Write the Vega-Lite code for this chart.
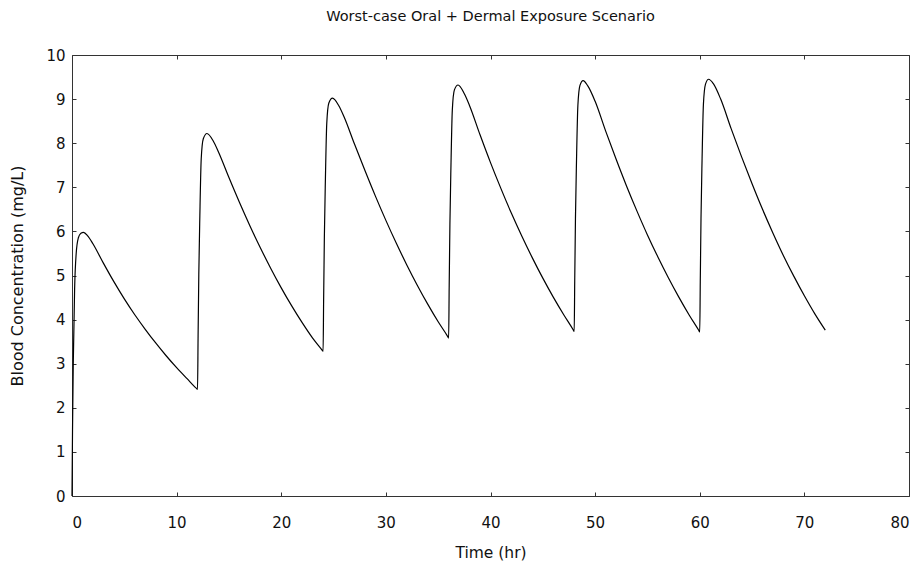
{
  "$schema": "https://vega.github.io/schema/vega-lite/v6.json",
  "width": 837,
  "height": 441,
  "autosize": {"type": "none"},
  "padding": {"left": 72, "top": 55, "right": 12, "bottom": 68},
  "background": "white",
  "title": {"text": "Worst-case Oral + Dermal Exposure Scenario", "font": "DejaVu Sans", "fontSize": 14.5, "fontWeight": "normal", "color": "#111", "offset": 24, "anchor": "middle"},
  "data": {"values": [
    {"t": 0, "conc": 0}, {"t": 0.05, "conc": 1.5}, {"t": 0.12, "conc": 3.0}, {"t": 0.25, "conc": 4.7}, {"t": 0.4, "conc": 5.5}, {"t": 0.6, "conc": 5.85}, {"t": 0.85, "conc": 5.96}, {"t": 1.1, "conc": 5.98}, {"t": 1.5, "conc": 5.9}, {"t": 2, "conc": 5.72}, {"t": 3, "conc": 5.28}, {"t": 4, "conc": 4.86}, {"t": 5, "conc": 4.47}, {"t": 6, "conc": 4.11}, {"t": 7, "conc": 3.78}, {"t": 8, "conc": 3.47}, {"t": 9, "conc": 3.18}, {"t": 10, "conc": 2.91}, {"t": 11, "conc": 2.66}, {"t": 11.9, "conc": 2.44}, {"t": 12, "conc": 2.42},
    {"t": 12.05, "conc": 3.58}, {"t": 12.12, "conc": 5.03}, {"t": 12.22, "conc": 6.36}, {"t": 12.35, "conc": 7.64}, {"t": 12.55, "conc": 8.1}, {"t": 12.9, "conc": 8.22}, {"t": 13.5, "conc": 8.05}, {"t": 14, "conc": 7.8}, {"t": 15, "conc": 7.22}, {"t": 16, "conc": 6.66}, {"t": 17, "conc": 6.13}, {"t": 18, "conc": 5.63}, {"t": 19, "conc": 5.16}, {"t": 20, "conc": 4.72}, {"t": 21, "conc": 4.31}, {"t": 22, "conc": 3.93}, {"t": 23, "conc": 3.58}, {"t": 23.9, "conc": 3.31}, {"t": 24, "conc": 3.28},
    {"t": 24.05, "conc": 4.43}, {"t": 24.12, "conc": 5.86}, {"t": 24.22, "conc": 7.18}, {"t": 24.35, "conc": 8.45}, {"t": 24.55, "conc": 8.91}, {"t": 24.9, "conc": 9.02}, {"t": 25.5, "conc": 8.85}, {"t": 26, "conc": 8.6}, {"t": 27, "conc": 7.98}, {"t": 28, "conc": 7.38}, {"t": 29, "conc": 6.8}, {"t": 30, "conc": 6.25}, {"t": 31, "conc": 5.73}, {"t": 32, "conc": 5.24}, {"t": 33, "conc": 4.78}, {"t": 34, "conc": 4.35}, {"t": 35, "conc": 3.95}, {"t": 35.9, "conc": 3.62}, {"t": 36, "conc": 3.58},
    {"t": 36.05, "conc": 4.73}, {"t": 36.12, "conc": 6.16}, {"t": 36.22, "conc": 7.48}, {"t": 36.35, "conc": 8.75}, {"t": 36.55, "conc": 9.21}, {"t": 36.9, "conc": 9.32}, {"t": 37.5, "conc": 9.12}, {"t": 38, "conc": 8.85}, {"t": 39, "conc": 8.19}, {"t": 40, "conc": 7.56}, {"t": 41, "conc": 6.97}, {"t": 42, "conc": 6.41}, {"t": 43, "conc": 5.89}, {"t": 44, "conc": 5.4}, {"t": 45, "conc": 4.94}, {"t": 46, "conc": 4.51}, {"t": 47, "conc": 4.11}, {"t": 47.9, "conc": 3.77}, {"t": 48, "conc": 3.73},
    {"t": 48.05, "conc": 4.87}, {"t": 48.12, "conc": 6.29}, {"t": 48.22, "conc": 7.6}, {"t": 48.35, "conc": 8.85}, {"t": 48.55, "conc": 9.31}, {"t": 48.85, "conc": 9.42}, {"t": 49.3, "conc": 9.3}, {"t": 50, "conc": 8.95}, {"t": 51, "conc": 8.28}, {"t": 52, "conc": 7.64}, {"t": 53, "conc": 7.03}, {"t": 54, "conc": 6.46}, {"t": 55, "conc": 5.92}, {"t": 56, "conc": 5.42}, {"t": 57, "conc": 4.95}, {"t": 58, "conc": 4.51}, {"t": 59, "conc": 4.1}, {"t": 59.9, "conc": 3.76}, {"t": 60, "conc": 3.72},
    {"t": 60.05, "conc": 4.86}, {"t": 60.12, "conc": 6.3}, {"t": 60.22, "conc": 7.61}, {"t": 60.35, "conc": 8.88}, {"t": 60.55, "conc": 9.34}, {"t": 60.85, "conc": 9.45}, {"t": 61.3, "conc": 9.35}, {"t": 62, "conc": 9.0}, {"t": 63, "conc": 8.33}, {"t": 64, "conc": 7.69}, {"t": 65, "conc": 7.08}, {"t": 66, "conc": 6.5}, {"t": 67, "conc": 5.96}, {"t": 68, "conc": 5.45}, {"t": 69, "conc": 4.98}, {"t": 70, "conc": 4.54}, {"t": 71, "conc": 4.13}, {"t": 72, "conc": 3.76}
  ]},
  "layer": [
    {
      "mark": {"type": "line", "color": "#000", "strokeWidth": 1.2, "interpolate": "monotone"},
      "encoding": {
        "x": {"field": "t", "type": "quantitative", "scale": {"domain": [0, 80], "nice": false, "zero": false},
              "axis": {"orient": "bottom", "title": "Time (hr)", "titleFontSize": 15.5, "values": [0, 10, 20, 30, 40, 50, 60, 70, 80], "labelPadding": 23, "titlePadding": 15}},
        "y": {"field": "conc", "type": "quantitative", "scale": {"domain": [0, 10], "nice": false},
              "axis": {"orient": "left", "title": "Blood Concentration (mg/L)", "titleFontSize": 16, "values": [0, 1, 2, 3, 4, 5, 6, 7, 8, 9, 10], "labelPadding": 11, "titlePadding": 20}}
      }
    },
    {
      "mark": {"type": "line", "opacity": 0},
      "encoding": {
        "x": {"field": "t", "type": "quantitative", "axis": {"orient": "top", "title": null, "labels": false, "values": [0, 10, 20, 30, 40, 50, 60, 70, 80]}},
        "y": {"field": "conc", "type": "quantitative", "axis": {"orient": "right", "title": null, "labels": false, "values": [0, 1, 2, 3, 4, 5, 6, 7, 8, 9, 10]}}
      }
    }
  ],
  "resolve": {"axis": {"x": "independent", "y": "independent"}},
  "config": {
    "view": {"stroke": null},
    "axis": {
      "grid": false,
      "domainColor": "#333",
      "domainWidth": 1,
      "tickColor": "#333",
      "tickSize": -4,
      "tickWidth": 1,
      "labelFont": "DejaVu Sans",
      "labelFontSize": 15,
      "labelColor": "#111",
      "titleFont": "DejaVu Sans",
      "titleFontSize": 15,
      "titleFontWeight": "normal",
      "titleColor": "#111"
    }
  }
}
